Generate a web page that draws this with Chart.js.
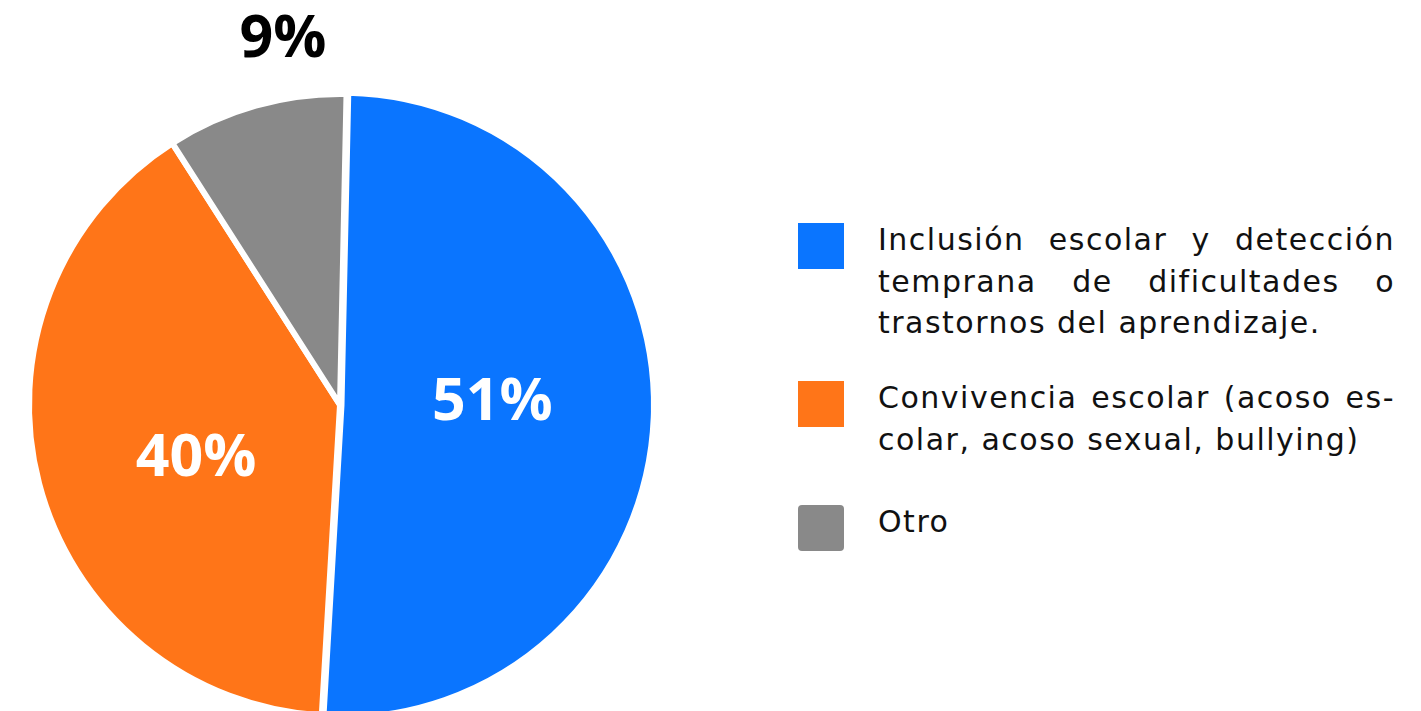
<!DOCTYPE html>
<html>
<head>
<meta charset="utf-8">
<script src="https://cdn.jsdelivr.net/npm/chart.js@4.4.1/dist/chart.umd.min.js"></script>
<style>
  html, body { margin: 0; padding: 0; background: #ffffff; width: 1421px; height: 711px; overflow: hidden; position: relative; }
  #chartBox { position: absolute; left: 0; top: 0; width: 680px; height: 740px; }
  .item { position: absolute; left: 798px; width: 600px; }
  .sw { position: absolute; left: 0; width: 46px; height: 46px; }
  .txt { position: absolute; left: 80px; width: 517px; font-family: "DejaVu Sans", sans-serif; font-size: 30px; line-height: 41.5px; letter-spacing: 1.5px; color: #111; }
  .line { white-space: nowrap; }
  .line.just { text-align: justify; text-align-last: justify; white-space: normal; }
</style>
</head>
<body>
<div id="chartBox"><canvas id="c"></canvas></div>
<div id="legend"></div>
<script>
const categories = [
  "Inclusión escolar y detección\ntemprana de dificultades o\ntrastornos del aprendizaje.",
  "Convivencia escolar (acoso es-\ncolar, acoso sexual, bullying)",
  "Otro"
];
const values = [50.6, 40.0, 9.4];
const valueLabels = ["51%", "40%", "9%"];
const colors = ["#0A75FF", "#FF7518", "#898989"];

// HTML legend built from the arrays (multi-line justified text)
const legendTops = [219, 377, 501];
const legendEl = document.getElementById('legend');
categories.forEach((c, i) => {
  const it = document.createElement('div');
  it.className = 'item';
  it.style.top = legendTops[i] + 'px';
  const sw = document.createElement('div');
  sw.className = 'sw';
  sw.style.top = '4px';
  sw.style.background = colors[i];
  if (i === 2) sw.style.borderRadius = '4px';
  const tx = document.createElement('div');
  tx.className = 'txt';
  const lines = c.split('\n');
  lines.forEach((ln, k) => {
    const d = document.createElement('div');
    d.className = 'line' + (k < lines.length - 1 ? ' just' : '');
    d.textContent = ln;
    tx.appendChild(d);
  });
  it.appendChild(sw); it.appendChild(tx);
  legendEl.appendChild(it);
});

const labelPlugin = {
  id: 'sliceLabels',
  afterDatasetsDraw(chart) {
    const ctx = chart.ctx;
    const meta = chart.getDatasetMeta(0);
    const fontSize = 59;
    const capH = fontSize * 0.714;
    meta.data.forEach((arc, i) => {
      const p = arc.getProps(['x', 'y', 'startAngle', 'endAngle', 'outerRadius'], true);
      const mid = (p.startAngle + p.endAngle) / 2;
      let x, y, color;
      if (values[i] >= 15) {
        const a = mid - 4.5 * Math.PI / 180;
        const r = p.outerRadius * 0.49;
        x = p.x + Math.cos(a) * r;
        y = p.y + Math.sin(a) * r;
        color = '#ffffff';
      } else {
        const r = p.outerRadius + 72;
        x = p.x + Math.cos(mid) * r * 0.55;
        y = p.y + Math.sin(mid) * r;
        color = '#000000';
      }
      ctx.save();
      ctx.font = 'bold ' + fontSize + 'px "Open Sans", sans-serif';
      ctx.fillStyle = color;
      ctx.textAlign = 'center';
      ctx.textBaseline = 'alphabetic';
      ctx.fillText(valueLabels[i], x, y + capH / 2);
      ctx.restore();
    });
  }
};

new Chart(document.getElementById('c'), {
  type: 'pie',
  data: {
    labels: categories,
    datasets: [{
      data: values,
      backgroundColor: colors,
      borderColor: '#ffffff',
      borderWidth: 6,
      offset: [6, 0, 0],
      hoverOffset: 0
    }]
  },
  options: {
    responsive: true,
    maintainAspectRatio: false,
    animation: false,
    rotation: 1.2,
    layout: { padding: { left: 23, right: 23, top: 88, bottom: 18 } },
    plugins: {
      legend: { display: false },
      tooltip: { enabled: false }
    }
  },
  plugins: [labelPlugin]
});
</script>
</body>
</html>
